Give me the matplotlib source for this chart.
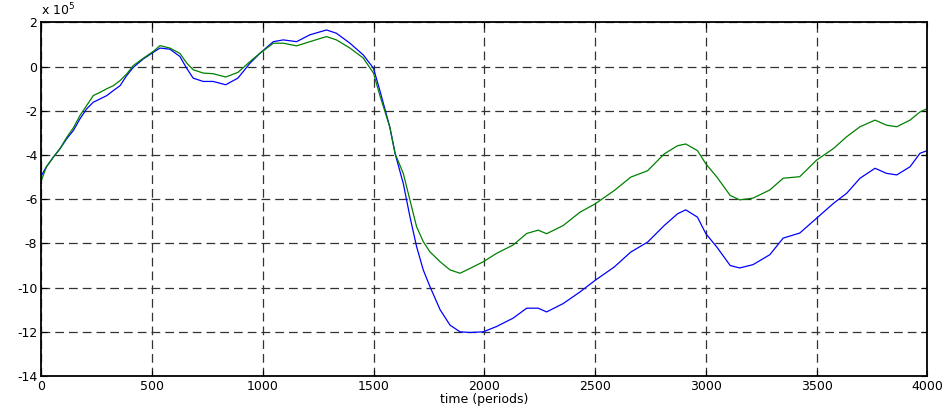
import numpy as np
import matplotlib
matplotlib.use('Agg')
from matplotlib import pyplot as plt

# values, y in units of 1e5
t_blue = [0, 22, 54, 84, 114, 144, 174, 204, 234, 265, 295, 325, 355, 385, 415, 460,
          505, 535, 580, 625, 656, 685, 730, 775, 832, 887, 942, 987, 1047, 1092,
          1152, 1212, 1287, 1332, 1393, 1453, 1499, 1528, 1573, 1597, 1634, 1664,
          1694, 1724, 1754, 1800, 1845, 1890, 1935, 1995, 2055, 2130, 2191, 2243,
          2281, 2356, 2431, 2500, 2586, 2661, 2737, 2812, 2872, 2909, 2962, 3000,
          3050, 3110, 3153, 3213, 3289, 3349, 3424, 3500, 3577, 3636, 3696, 3764,
          3816, 3862, 3922, 3967, 4000]
y_blue = [-4.92, -4.54, -4.09, -3.71, -3.26, -2.89, -2.36, -1.91, -1.61, -1.46, -1.31,
          -1.08, -0.86, -0.40, -0.03, 0.35, 0.65, 0.84, 0.79, 0.46, -0.08, -0.52,
          -0.67, -0.67, -0.82, -0.52, 0.16, 0.61, 1.13, 1.21, 1.13, 1.44, 1.66, 1.51,
          1.06, 0.53, -0.07, -1.08, -2.74, -3.94, -5.30, -6.80, -8.15, -9.20, -9.95,
          -11.0, -11.7, -12.0, -12.03, -12.0, -11.76, -11.38, -10.93, -10.93, -11.1,
          -10.72, -10.2, -9.67, -9.07, -8.39, -7.94, -7.19, -6.66, -6.48, -6.81,
          -7.56, -8.17, -9.0, -9.11, -8.96, -8.51, -7.76, -7.53, -6.86, -6.18, -5.73,
          -5.05, -4.6, -4.83, -4.9, -4.53, -3.92, -3.8]

t_green = [0, 22, 54, 84, 114, 144, 174, 204, 234, 265, 295, 325, 355, 385, 415, 460,
           505, 535, 580, 625, 656, 685, 730, 775, 832, 887, 942, 987, 1047, 1092,
           1152, 1212, 1287, 1332, 1393, 1453, 1499, 1528, 1573, 1597, 1634, 1664,
           1694, 1724, 1754, 1800, 1845, 1890, 1935, 1995, 2055, 2130, 2191, 2243,
           2281, 2356, 2431, 2500, 2586, 2661, 2737, 2812, 2872, 2909, 2962, 3000,
           3050, 3110, 3153, 3213, 3289, 3349, 3424, 3500, 3577, 3636, 3696, 3764,
           3816, 3862, 3922, 3967, 4000]
y_green = [-5.14, -4.54, -4.09, -3.71, -3.2, -2.77, -2.21, -1.76, -1.31, -1.16, -1.0,
           -0.86, -0.63, -0.33, 0.05, 0.38, 0.69, 0.95, 0.84, 0.6, 0.16, -0.14,
           -0.29, -0.32, -0.47, -0.26, 0.23, 0.61, 1.06, 1.06, 0.94, 1.13, 1.36, 1.21,
           0.84, 0.39, -0.29, -1.3, -2.74, -3.94, -4.84, -6.05, -7.25, -7.92, -8.38,
           -8.83, -9.2, -9.35, -9.13, -8.83, -8.45, -8.07, -7.55, -7.4, -7.56, -7.19,
           -6.59, -6.21, -5.61, -5.0, -4.71, -3.95, -3.58, -3.5, -3.8, -4.4, -5.0,
           -5.83, -6.03, -5.95, -5.58, -5.05, -4.98, -4.23, -3.7, -3.17, -2.72, -2.42,
           -2.65, -2.72, -2.42, -2.05, -1.9]

x_ticks = [0, 500, 1000, 1500, 2000, 2500, 3000, 3500, 4000]
y_ticks = [2, 0, -2, -4, -6, -8, -10, -12, -14]

plt.rcParams['font.family'] = ['DejaVu Sans']
plt.rcParams['axes.unicode_minus'] = False

fig = plt.figure(figsize=(9.51, 4.08), dpi=100)
ax = fig.add_axes([0.0436, 0.0784, 0.9315, 0.8666])

ax.plot(t_blue, y_blue, color='#0000ff', lw=0.9)
ax.plot(t_green, y_green, color='#008000', lw=0.9)

ax.set_xlim(0, 4000)
ax.set_ylim(-14, 2)
ax.set_xticks(x_ticks)
ax.set_yticks(y_ticks)
ax.grid(True, color='0.2', linestyle=(0, (7, 4)), lw=0.9)
ax.tick_params(direction='in', top=True, right=True, labelsize=9, length=4, pad=3)
for s in ax.spines.values():
    s.set_linewidth(1.3)

ax.set_xlabel('time (periods)', fontsize=9, labelpad=0)
ax.text(0.0, 1.012, r'x 10$^5$', transform=ax.transAxes, fontsize=9,
        ha='left', va='bottom')

fig.savefig('out.png', dpi=100)
